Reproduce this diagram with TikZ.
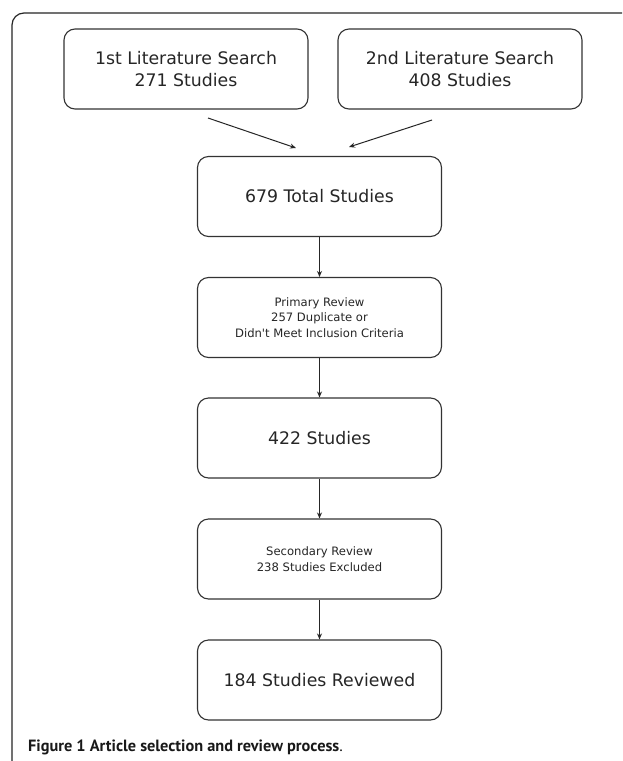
\documentclass[tikz,border=0pt]{standalone}
\usepackage{fontspec}
\newfontfamily\boxfont{DejaVu Sans}
\newfontfamily\capfont{PT Sans}
\usetikzlibrary{arrows.meta}
\begin{document}
\begin{tikzpicture}[x=1pt,y=-1pt,
  flowbox/.style={draw=black!80, line width=1.1pt, rounded corners=11pt, minimum width=244pt, minimum height=80pt, inner sep=0pt, align=center, text=black!85},
  bigtext/.style={font=\boxfont\fontsize{17.3}{22.5}\selectfont},
  smalltext/.style={font=\boxfont\fontsize{11.6}{15.5}\selectfont},
  flowarrow/.style={draw=black!85, line width=1pt, -{Stealth[length=6pt,width=5pt]}}
]
\useasboundingbox (0,0) rectangle (622,761);
\fill[white] (0,0) rectangle (622,761);
% outer frame (only top and left visible)
\draw[black!85, line width=1.2pt, rounded corners=12pt] (12,761) -- (12,13) -- (622,13);

\node[flowbox, bigtext] (b1) at (186,69) {1st Literature Search\\271 Studies};
\node[flowbox, bigtext] (b2) at (460,69) {2nd Literature Search\\408 Studies};
\node[flowbox, bigtext] (b3) at (319.5,196.5) {679 Total Studies};
\node[flowbox, smalltext] (b4) at (319.5,317.5) {Primary Review\\257 Duplicate or\\Didn't Meet Inclusion Criteria};
\node[flowbox, bigtext] (b5) at (319.5,438) {422 Studies};
\node[flowbox, smalltext] (b6) at (319.5,559) {Secondary Review\\238 Studies Excluded};
\node[flowbox, bigtext] (b7) at (319.5,680) {184 Studies Reviewed};

\coordinate (a1s) at (208,118);
\coordinate (a1e) at (296,148);
\coordinate (a2s) at (432,120);
\coordinate (a2e) at (349,147);
\draw[flowarrow] (a1s) -- (a1e);
\draw[flowarrow] (a2s) -- (a2e);
\draw[flowarrow] (b3.south) -- (b4.north);
\draw[flowarrow] (b4.south) -- (b5.north);
\draw[flowarrow] (b5.south) -- (b6.north);
\draw[flowarrow] (b6.south) -- (b7.north);

\node[anchor=base west, inner sep=0pt, text=black!90, font=\capfont\fontsize{16.3}{19}\selectfont] (cap) at (28,751) {\textbf{Figure 1 Article selection and review process}.};
\end{tikzpicture}
\end{document}
